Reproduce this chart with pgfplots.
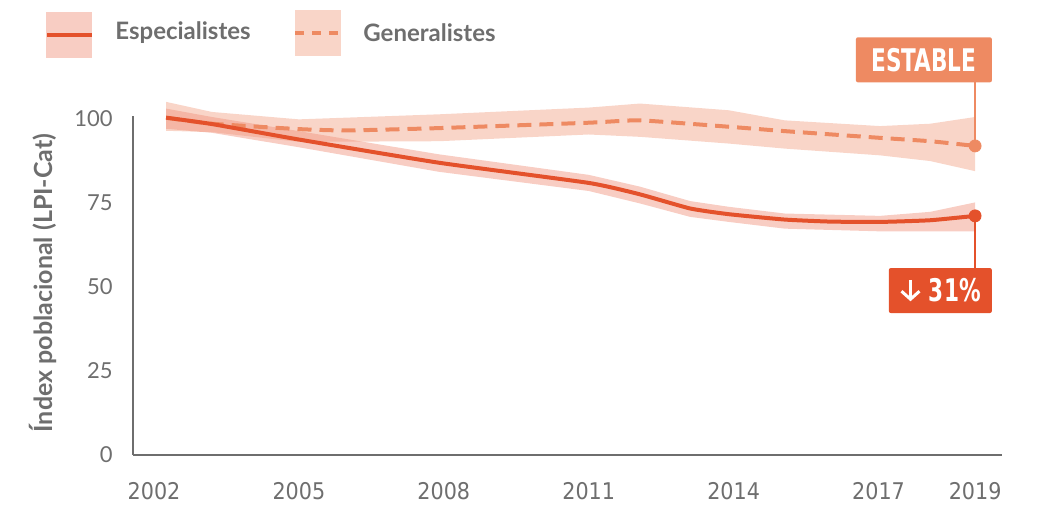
\documentclass[border=0pt]{standalone}
\usepackage{pgfplots}
\pgfplotsset{compat=1.18}
\usetikzlibrary{arrows.meta}
\usepackage{fontspec}
\setmainfont{Lato}
\newfontfamily\condfont{DejaVu Sans Condensed}
\newfontfamily\condbold{DejaVu Sans Condensed Bold}

\definecolor{spec}{HTML}{E4512B}
\definecolor{gen}{HTML}{EE8A62}
\definecolor{specband}{HTML}{F0917A}
\definecolor{genband}{HTML}{F3AC92}
\definecolor{txt}{HTML}{6E6E6E}

\newsavebox\fletxa

\begin{document}%
\sbox\fletxa{\tikz[baseline=0pt]{\draw[white, line width=1.5pt, -{Straight Barb[length=4pt, width=9pt, line width=1.5pt]}] (0,11pt) -- (0,0.3pt);}}%
\begin{tikzpicture}
\useasboundingbox (0,0) rectangle (521pt,253pt);
\begin{axis}[
  at={(66.5pt,25.5pt)}, anchor=south west,
  scale only axis, width=434.5pt, height=169.5pt,
  xmin=2001.565, xmax=2019.557, ymin=0, ymax=100.8,
  axis x line*=bottom, axis y line*=left,
  axis line style={txt, line width=1pt, -},
  xtick={2002,2005,2008,2011,2014,2017,2019},
  ytick={0,25,50,75,100},
  major tick length=0pt,
  /pgf/number format/assume math mode=true,
  /pgf/number format/1000 sep={},
  xticklabel style={anchor=center, yshift=-18pt, font=\condfont\fontsize{11.5}{12}\selectfont, text=txt},
  yticklabel style={anchor=east, inner sep=0pt, xshift=-10pt, font=\fontsize{11}{12}\selectfont, text=txt},
  clip=false,
]
% bandes (interval de confiança)
\addplot[draw=none, fill=genband, fill opacity=0.5] coordinates {
  (2002.25,105) (2003.2,102) (2005,99.8) (2007.9,101.3) (2011,103.3) (2012.06,104.5)
  (2013.9,102.5) (2015.06,99.5) (2017.03,97.8) (2018.07,98.5) (2019,100.5)
  (2019,84.4) (2018.07,87.4) (2017.03,89.1) (2015.06,91.1) (2013.9,92.6) (2012.06,94.6)
  (2011,95.3) (2007.9,93.3) (2005,93.1) (2003.2,96) (2002.25,96.4)} -- cycle;
\addplot[draw=none, fill=specband, fill opacity=0.45] coordinates {
  (2002.25,103) (2003.2,100.5) (2005,96.3) (2007.9,89.4) (2011,83.3) (2012.06,79.8)
  (2013.1,75.5) (2013.9,73.8) (2015.06,71.8) (2017.03,71.1) (2018.07,72.3) (2019,75.1)
  (2019,66.5) (2018.07,66.5) (2017.03,66.5) (2015.06,67.3) (2013.9,69.3) (2013.1,70.8)
  (2012.06,74.8) (2011,78.5) (2007.9,84.2) (2005,91.5) (2003.2,95.8) (2002.25,97)} -- cycle;
% línies
\addplot[gen, line width=2pt, dash pattern=on 7pt off 4pt, smooth, tension=0.3] coordinates {
  (2002.25,100.3) (2003.2,98.5) (2005,96.9) (2006,96.5) (2007.9,97.2) (2011,98.8)
  (2012.06,99.5) (2013.9,97.6) (2015.06,96.3) (2017.03,94.3) (2018.07,93.3) (2019,91.9)};
\addplot[spec, line width=2pt, smooth, tension=0.3] coordinates {
  (2002.25,100.3) (2003.2,98.4) (2005,93.8) (2007.9,86.9) (2011,80.9) (2012.06,77.5)
  (2013.1,73.3) (2013.9,71.6) (2015.06,70) (2016,69.4) (2017.03,69.3) (2018.07,69.8) (2019,71.1)};
% anotacions
\addplot[gen, line width=1.2pt] coordinates {(2019,91.9) (2019,111)};
\addplot[spec, line width=1.2pt] coordinates {(2019,71.1) (2019,55)};
\addplot[only marks, mark=*, mark size=3pt, gen] coordinates {(2019,91.9)};
\addplot[only marks, mark=*, mark size=3pt, spec] coordinates {(2019,71.1)};
\node[fill=gen, rounded corners=1pt, minimum width=68pt, minimum height=22.5pt, inner sep=0pt, text=white,
  font=\condbold\fontsize{12}{12}\selectfont] at (axis cs:2017.94,117.5) {\scalebox{1}[1.3]{ESTABLE}};
\node[fill=spec, rounded corners=1pt, minimum width=51.5pt, minimum height=22.5pt, inner sep=0pt, text=white,
  font=\condbold\fontsize{12}{12}\selectfont] at (axis cs:2018.28,48.9)
  {\usebox\fletxa\hspace{4pt}\scalebox{1}[1.3]{31\%}};
\end{axis}
% llegenda
\fill[specband, opacity=0.45] (23pt,224pt) rectangle (46pt,247pt);
\draw[spec, line width=2.2pt] (23.5pt,235.5pt) -- (46pt,235.5pt);
\node[anchor=west, inner sep=0pt, text=txt, font=\bfseries\fontsize{12}{13}\selectfont] at (57.5pt,236.5pt) {Especialistes};
\fill[genband, opacity=0.5] (147.5pt,225pt) rectangle (170.5pt,248pt);
\draw[gen, line width=2.2pt, dash pattern=on 4.5pt off 4pt] (147.5pt,236.5pt) -- (170.5pt,236.5pt);
\node[anchor=west, inner sep=0pt, text=txt, font=\bfseries\fontsize{12}{13}\selectfont] at (181.5pt,236.5pt) {Generalistes};
% títol de l'eix y
\node[rotate=90, text=txt, font=\bfseries\fontsize{12.5}{13}\selectfont] at (21.5pt,111.5pt) {Índex poblacional (LPI-Cat)};
\end{tikzpicture}%
\end{document}
